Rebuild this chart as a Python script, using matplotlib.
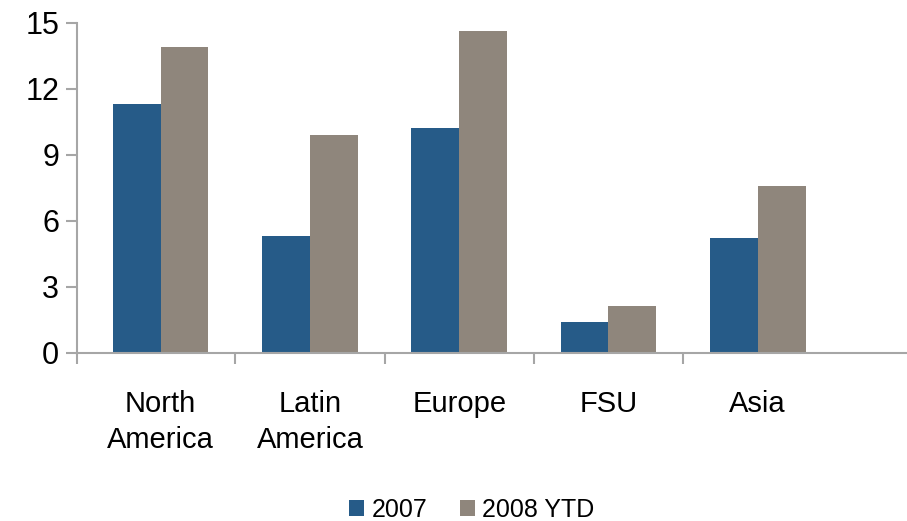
import numpy as np
import matplotlib.pyplot as plt
from matplotlib.ticker import FixedLocator

plt.rcParams['font.family'] = ['Liberation Sans', 'DejaVu Sans']

# Data
regions = ['North\nAmerica', 'Latin\nAmerica', 'Europe', 'FSU', 'Asia']
values_2007 = [11.3, 5.3, 10.2, 1.4, 5.2]
values_2008 = [13.9, 9.9, 14.6, 2.15, 7.6]
series_names = ['2007', '2008 YTD']

blue = '#265b88'
grey = '#8f867c'
axis_grey = '#a6a6a6'

fig = plt.figure(figsize=(9.07, 5.21), dpi=100)
ax = fig.add_axes([0.085, 0.3225, 0.915, 0.634])

x = np.arange(len(regions))
w = 0.32
ax.bar(x - w / 2, values_2007, w, color=blue, label=series_names[0])
ax.bar(x + w / 2, values_2008, w, color=grey, label=series_names[1])

ax.set_ylim(0, 15)
ax.set_yticks([0, 3, 6, 9, 12, 15])
ax.set_xlim(-0.56, 5.0)

# category labels at centres, tick marks between groups
ax.set_xticks(x)
ax.set_xticklabels(regions, fontsize=21, linespacing=1.32)
ax.tick_params(axis='x', which='major', length=0, pad=27)
ax.xaxis.set_minor_locator(FixedLocator([-0.56, 0.5, 1.5, 2.5, 3.5]))
ax.tick_params(axis='x', which='minor', length=8, width=1.5, color=axis_grey)
ax.tick_params(axis='y', length=8, width=1.5, color=axis_grey, labelsize=22, pad=5)

for side in ['top', 'right']:
    ax.spines[side].set_visible(False)
for side in ['left', 'bottom']:
    ax.spines[side].set_color(axis_grey)
    ax.spines[side].set_linewidth(1.5)

fig.legend(loc='lower center', bbox_to_anchor=(0.52, -0.045), ncol=2, frameon=False,
           fontsize=18, handlelength=0.6, handleheight=0.6, handletextpad=0.3,
           columnspacing=1.3)

fig.savefig('out.png', dpi=100)
